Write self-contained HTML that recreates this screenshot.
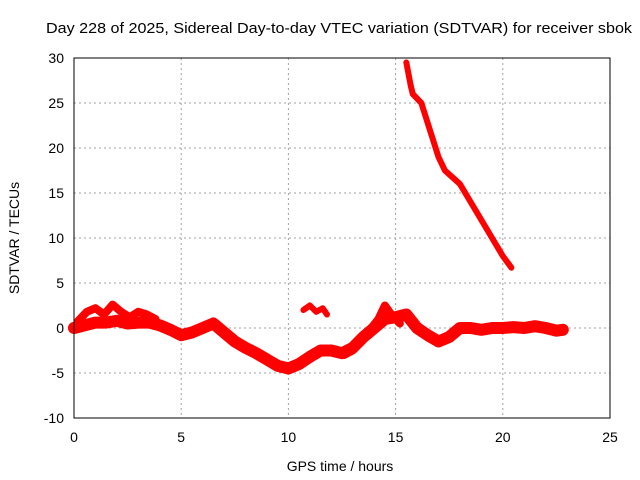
<!DOCTYPE html>
<html><head><meta charset="utf-8"><style>
body{margin:0;background:#fff}
svg{display:block;font-family:"Liberation Sans",sans-serif}
</style></head><body>
<svg id="c" width="640" height="480">
<rect width="640" height="480" fill="#fff"/>
<text x="46" y="33" font-size="15" textLength="586" lengthAdjust="spacingAndGlyphs">Day 228 of 2025, Sidereal Day-to-day VTEC variation (SDTVAR) for receiver sbok</text>
<text x="340" y="471" font-size="14" text-anchor="middle">GPS time / hours</text>
<text transform="translate(19,238) rotate(-90)" font-size="14" text-anchor="middle">SDTVAR / TECUs</text>
<g id="grid"></g><g id="marks"></g>
<rect x="74" y="58" width="536" height="360" fill="none" stroke="#000" stroke-width="1"/>
</svg>
<script>
const xTicks=[0,5,10,15,20,25];
const yTicks=[-10,-5,0,5,10,15,20,25,30];
const bandX=[0,0.5,1,1.5,2,2.5,3,3.5,4,4.5,5,5.5,6,6.5,7,7.5,8,8.5,9,9.5,10,10.5,11,11.5,12,12.5,13,13.5,14,14.5,15,15.5,16,16.5,17,17.5,18,18.5,19,19.5,20,20.5,21,21.5,22,22.5,22.8];
const bandY=[0,0.3,0.6,0.6,0.8,0.5,0.6,0.6,0.3,-0.2,-0.8,-0.5,0,0.5,-0.5,-1.5,-2.2,-2.8,-3.5,-4.2,-4.5,-4,-3.2,-2.5,-2.5,-2.8,-2.2,-1,0,1,1.2,1.5,0,-0.8,-1.5,-1,0,0,-0.2,0,0,0.1,0,0.2,0,-0.3,-0.2];
const upperX=[0.2,0.6,1,1.4,1.8,2.2,2.6,3,3.4,3.8];
const upperY=[0.8,1.8,2.2,1.5,2.6,1.8,1.2,1.8,1.5,1];
const branchX=[12.6,13,13.4,13.8,14.2,14.5,14.8,15.2];
const branchY=[-3,-2.5,-1.5,-0.2,1,2.5,1.5,0.5];
const descX=[15.5,15.7,15.8,16.2,16.6,17,17.3,18,18.5,19,19.5,20,20.4];
const descY=[29.5,27,26,25,22,19,17.5,16,14,12,10,8,6.7];
const blobX=[10.7,11,11.3,11.6,11.8];
const blobY=[2,2.5,1.8,2.2,1.5];
const X=v=>74+v*536/25, Y=v=>418-(v+10)*9;
const NS="http://www.w3.org/2000/svg";
const g=document.getElementById('grid'), m=document.getElementById('marks');
function el(t,a,p){const e=document.createElementNS(NS,t);for(const k in a)e.setAttribute(k,a[k]);p.appendChild(e);return e;}
xTicks.forEach(v=>{
 if(v>0&&v<25){const l=el('line',{x1:X(v),x2:X(v),y1:58,y2:418,stroke:'#a0a0a0','stroke-dasharray':'2,3'},g);
 
 }
 const t=el('text',{x:X(v),y:442,'font-size':14,'text-anchor':'middle'},g);t.textContent=v;
 
 
});
yTicks.forEach(v=>{
 if(v>-10&&v<30){const l=el('line',{x1:74,x2:610,y1:Y(v),y2:Y(v),stroke:'#a0a0a0','stroke-dasharray':'2,3'},g);
 
 }
 const t=el('text',{x:64,y:Y(v)+5,'font-size':14,'text-anchor':'end'},g);t.textContent=v;
 
 
});
function series(xs,ys,w,name){
 const p=el('polyline',{points:xs.map((x,i)=>X(x)+','+Y(ys[i])).join(' '),fill:'none',stroke:'#f00','stroke-width':w,'stroke-linejoin':'round','stroke-linecap':'round'},m);
 
 
}
series(bandX,bandY,12,'sdtvar-main-band');
series(upperX,upperY,8,'sdtvar-upper-band');
series(branchX,branchY,8,'sdtvar-branch');
series(descX,descY,6,'sdtvar-descent');
series(blobX,blobY,6,'sdtvar-blob');
</script>
</body></html>
